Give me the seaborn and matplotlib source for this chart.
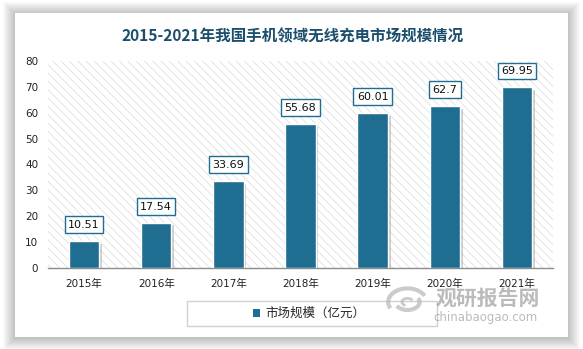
import matplotlib
matplotlib.use('Agg')
import matplotlib.pyplot as plt
import matplotlib.patheffects as pe
from matplotlib.patches import Rectangle, Patch, Arc
import seaborn as sns
import pandas as pd

# ---- data ----
years = ['2015年', '2016年', '2017年', '2018年', '2019年', '2020年', '2021年']
values = [10.51, 17.54, 33.69, 55.68, 60.01, 62.7, 69.95]
value_labels = ['10.51', '17.54', '33.69', '55.68', '60.01', '62.7', '69.95']
series_name = '市场规模（亿元）'
title = '2015-2021年我国手机领域无线充电市场规模情况'
yticks = [0, 10, 20, 30, 40, 50, 60, 70, 80]

df = pd.DataFrame({'year': years, 'value': values})

sns.set_theme(style='white')
plt.rcParams['font.family'] = ['DejaVu Sans', 'Noto Sans CJK SC']
plt.rcParams['hatch.linewidth'] = 0.5

BAR = '#1f6e91'
W, H = 583, 349
fig = plt.figure(figsize=(W / 100, H / 100), dpi=100)
fig.patch.set_facecolor('white')


def fx(px):
    return px / W


def fy(py):
    return 1 - py / H


# card shadow + card
cl, ct, cr, cb = 15, 13, 568, 337
for k in range(12, 0, -1):
    fig.patches.append(Rectangle((fx(cl - k), fy(cb + k + 1)), fx(cr - cl + 2 * k), (cb - ct + 2 * k) / H,
                                 transform=fig.transFigure, facecolor='#000000', alpha=0.018,
                                 edgecolor='none', zorder=0))
fig.patches.append(Rectangle((fx(cl), fy(cb)), fx(cr - cl), (cb - ct) / H, transform=fig.transFigure,
                             facecolor='white', edgecolor='none', zorder=1))

# title
fig.text(fx(293), fy(36), title, ha='center', va='center', fontsize=11.2, fontweight='bold',
         color='#1b4f6d', family=['Noto Sans CJK SC', 'DejaVu Sans'], zorder=5)

# axes
ax = fig.add_axes([fx(48), fy(268), fx(553 - 48), (268 - 61) / H], zorder=3)
ax.set_facecolor('white')
ax.add_patch(Rectangle((0, 0), 1, 1, transform=ax.transAxes, facecolor='white', edgecolor='#d9d9d9',
                       hatch='\\\\\\\\', linewidth=0, zorder=0))

sns.barplot(data=df, x='year', y='value', color=BAR, saturation=1, width=0.42, ax=ax,
            edgecolor='white', linewidth=1, zorder=3)
cont = ax.containers[0]
for bar in cont:
    bar.set_path_effects([pe.SimplePatchShadow(offset=(2, -2), shadow_rgbFace='#7a7a7a', alpha=0.35),
                          pe.Normal()])
ax.bar_label(cont, labels=value_labels, padding=8, fontsize=8, color='#111111',
             bbox=dict(boxstyle='square,pad=0.3', fc='white', ec=BAR, lw=1))

ax.set_xlim(-0.5, 6.5)
ax.set_ylim(0, 80)
ax.set_yticks(yticks)
ax.set_xlabel('')
ax.set_ylabel('')
ax.tick_params(axis='y', length=0, pad=7, labelsize=7.5, labelcolor='#222222')
ax.tick_params(axis='x', length=0, pad=8, labelsize=7.5, labelcolor='#222222')
for s in ['top', 'right', 'left']:
    ax.spines[s].set_visible(False)
ax.spines['bottom'].set_color('#8c8c8c')
ax.spines['bottom'].set_linewidth(1)

# legend
fig.patches.append(Rectangle((fx(187), fy(326)), fx(437 - 187), (326 - 301) / H, transform=fig.transFigure,
                             facecolor='white', edgecolor='#d0d0d0', linewidth=1, zorder=4))
leg = fig.legend(handles=[Patch(facecolor=BAR, edgecolor='none', label=series_name)],
                 loc='center', bbox_to_anchor=(fx(309), fy(313.5)), frameon=False,
                 handlelength=0.6, handleheight=0.6, handletextpad=0.4,
                 prop={'family': ['Noto Sans CJK SC'], 'size': 9})
leg.set_zorder(6)

# watermark
fig.text(fx(488), fy(298), '观研报告网', ha='center', va='center', fontsize=15, fontweight='bold',
         color='#8f8f8f', alpha=0.6, family=['Noto Sans CJK SC'], zorder=7)
fig.text(fx(486), fy(318), 'chinabaogao.com', ha='center', va='center', fontsize=8.5,
         color='#8f8f8f', alpha=0.6, zorder=7)
lax = fig.add_axes([fx(385), fy(318), fx(45), 32 / H], zorder=7)
lax.set_xlim(-1.4, 1.4)
lax.set_ylim(-1, 1)
lax.axis('off')
lax.add_patch(Arc((0, 0), 2.4, 1.7, theta1=20, theta2=200, lw=3, color='#b5b5b5', alpha=0.7))
lax.add_patch(Arc((0, 0), 1.5, 1.0, theta1=200, theta2=380, lw=3, color='#b5b5b5', alpha=0.7))
lax.add_patch(Arc((0, 0), 0.7, 0.45, theta1=20, theta2=240, lw=2, color='#b5b5b5', alpha=0.7))

fig.savefig('out.png', dpi=100, facecolor=fig.get_facecolor())
